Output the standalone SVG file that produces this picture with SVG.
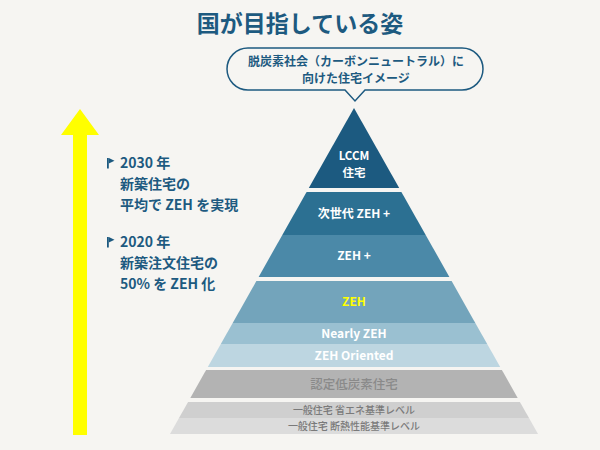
<svg xmlns="http://www.w3.org/2000/svg" width="600" height="450" viewBox="0 0 600 450">
<style>
text{font-family:"Noto Sans CJK JP","Noto Sans",sans-serif;text-anchor:middle;font-weight:bold}
.title{font-size:23px;fill:#1d5a80}
.bub{font-size:12px;fill:#1d5a80}
.side{font-size:14px;fill:#1d5a80;text-anchor:start}
.w{font-size:12px;fill:#ffffff}
.w2{font-size:11.5px;fill:#ffffff}
.y{font-size:12px;fill:#ffff00}
.g1{font-size:12.5px;fill:#8a8a8a;font-weight:500}
.g2{font-size:10px;fill:#7a7a7a;font-weight:500}
</style>
<defs>
<g id="flag"><rect x="0" y="0" width="1.8" height="10.5" fill="#1d5a80"/><polygon points="1.8,0 7.5,2.8 1.8,5.6" fill="#1d5a80"/></g>
</defs>
<rect width="600" height="450" fill="#f6f5f2"/>
<text class="title" x="300" y="32">国が目指している姿</text>
<g id="callout">
<path d="M248,48 H462 A21,21 0 0 1 462,90 H365 L355,101 L345,90 H248 A21,21 0 0 1 248,48 Z" fill="#f6f5f2" stroke="#1d5a80" stroke-width="1.5"/>
<text class="bub" x="356" y="66">脱炭素社会（カーボンニュートラル）に</text>
<text class="bub" x="356" y="83">向けた住宅イメージ</text>
</g>
<g id="connectors">
<polygon points="73,435 87,435 87,135 99,135 80,109 61,135 73,135" fill="#ffff00"/>
</g>
<g id="note2030">
<use href="#flag" x="107" y="158"/>
<text class="side" x="120" y="168">2030 年</text>
<text class="side" x="120" y="189">新築住宅の</text>
<text class="side" x="120" y="210">平均で ZEH を実現</text>
</g>
<g id="note2020">
<use href="#flag" x="107" y="237"/>
<text class="side" x="120" y="247">2020 年</text>
<text class="side" x="120" y="268">新築注文住宅の</text>
<text class="side" x="120" y="289">50% を ZEH 化</text>
</g>
<g id="lccm">
<polygon points="354,108 399.2,188 308.8,188" fill="#1c5a80"/>
<text class="w2" x="354" y="160">LCCM</text>
<text class="w2" x="354" y="177">住宅</text>
</g>
<g id="zehplus-next">
<polygon points="306.6,192 401.4,192 425.7,235 282.3,235" fill="#2c7092"/>
<text class="w" x="354" y="218">次世代 ZEH +</text>
</g>
<g id="zehplus">
<polygon points="282.3,235 425.7,235 449.4,277 258.6,277" fill="#4b89a8"/>
<text class="w" x="354" y="260">ZEH +</text>
</g>
<g id="zeh">
<polygon points="256.4,281 451.6,281 475.3,323 232.7,323" fill="#73a4bb"/>
<text class="y" x="354" y="306">ZEH</text>
</g>
<g id="nearly">
<polygon points="232.7,323 475.3,323 487.2,344 220.8,344" fill="#9ac0d1"/>
<text class="w" x="354" y="338">Nearly ZEH</text>
</g>
<g id="oriented">
<polygon points="220.8,344 487.2,344 500.2,367 207.8,367" fill="#bdd6e1"/>
<text class="w" x="354" y="360">ZEH Oriented</text>
</g>
<g id="lowcarbon">
<polygon points="206.1,370 501.9,370 517.7,398 190.3,398" fill="#b3b3b3"/>
<text class="g1" x="354" y="389">認定低炭素住宅</text>
</g>
<g id="general1">
<polygon points="188.1,402 519.9,402 529,418 179,418" fill="#cfcfcf"/>
<text class="g2" x="354" y="414">一般住宅 省エネ基準レベル</text>
</g>
<g id="general2">
<polygon points="179,418 529,418 538,434 170,434" fill="#dcdcdc"/>
<text class="g2" x="354" y="430">一般住宅 断熱性能基準レベル</text>
</g>
</svg>
